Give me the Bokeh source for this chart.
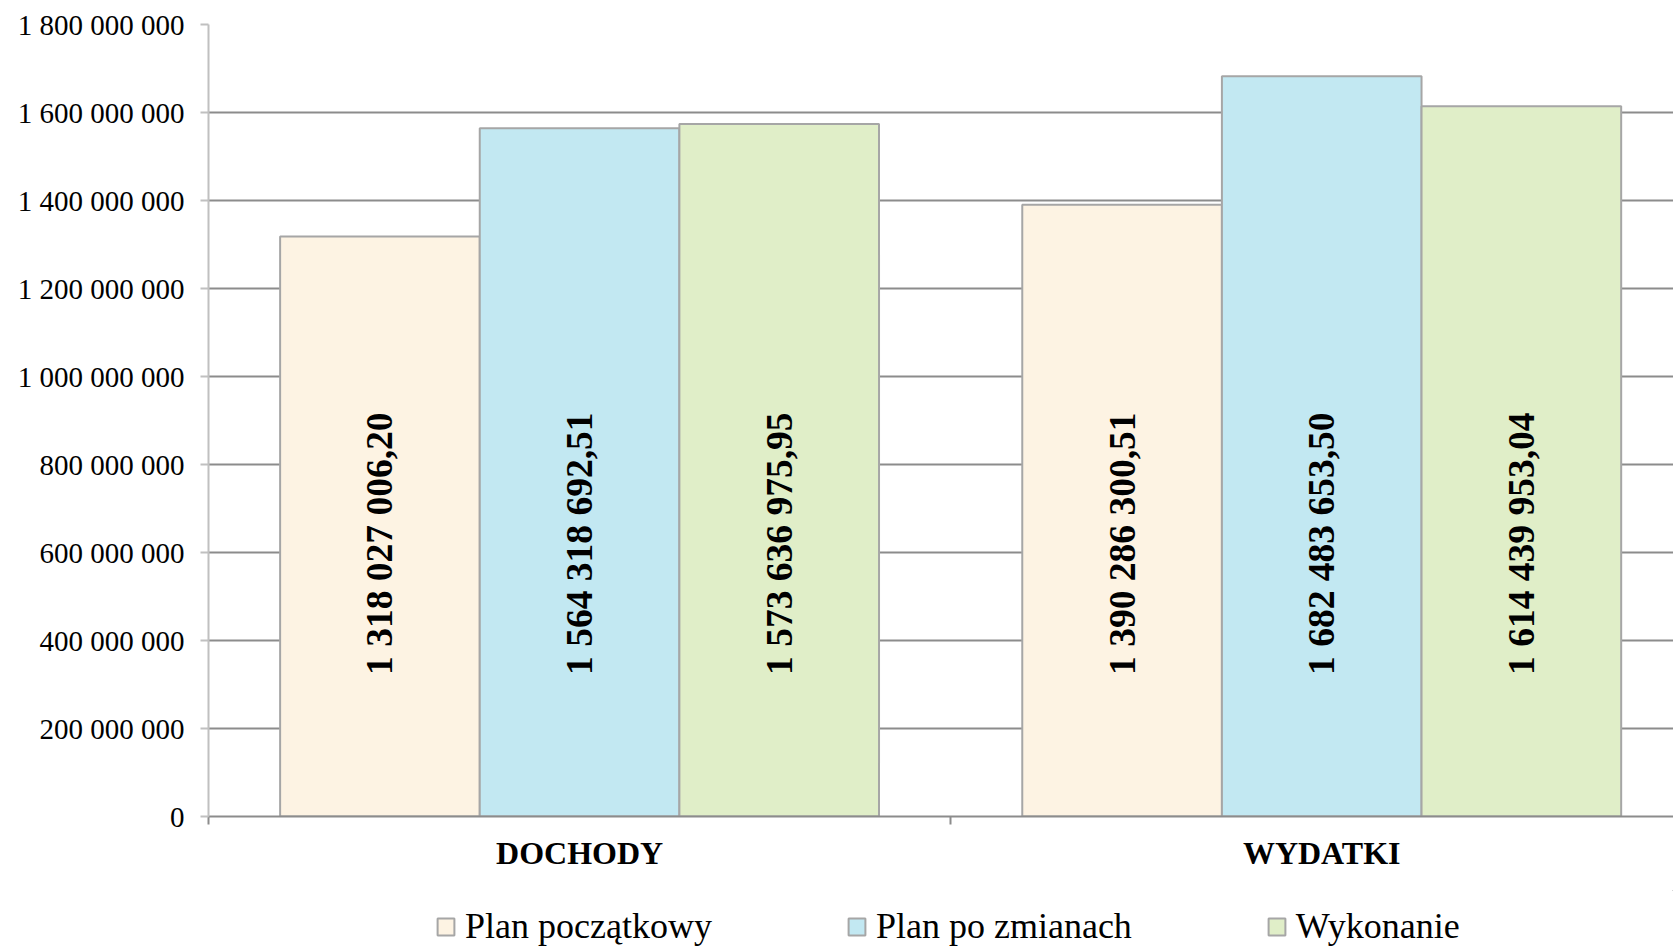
import math
from bokeh.plotting import figure
from bokeh.layouts import column
from bokeh.models import (ColumnDataSource, Range1d, FixedTicker, Legend, LegendItem)
from bokeh.core.properties import value
from bokeh.embed import file_html
from bokeh.resources import INLINE

# ---- data ----
categories = ["DOCHODY", "WYDATKI"]
series_names = ["Plan początkowy", "Plan po zmianach", "Wykonanie"]
plan_poczatkowy = [1318027006.20, 1390286300.51]
plan_po_zmianach = [1564318692.51, 1682483653.50]
wykonanie = [1573636975.95, 1614439953.04]
value_labels = [
    ["1 318 027 006,20", "1 390 286 300,51"],
    ["1 564 318 692,51", "1 682 483 653,50"],
    ["1 573 636 975,95", "1 614 439 953,04"],
]
y_ticks = [0, 200000000, 400000000, 600000000, 800000000, 1000000000,
           1200000000, 1400000000, 1600000000, 1800000000]
y_tick_labels = ["0", "200 000 000", "400 000 000", "600 000 000", "800 000 000",
                 "1 000 000 000", "1 200 000 000", "1 400 000 000",
                 "1 600 000 000", "1 800 000 000"]

colors = ["#FDF3E3", "#C2E8F2", "#E0EEC8"]
series_values = [plan_poczatkowy, plan_po_zmianach, wykonanie]

SERIF = "Liberation Serif"
BAR_LINE = "#A6A6A6"

p = figure(width=1673, height=890, output_backend="svg", toolbar_location=None,
           x_range=Range1d(0, 1.974), y_range=Range1d(0, 1800000000),
           min_border_left=208, min_border_right=0, min_border_top=24,
           min_border_bottom=74)
p.outline_line_color = None
p.background_fill_color = "white"
p.border_fill_color = "white"

bar_w = 0.269
offsets = [-bar_w, 0.0, bar_w]
centers = [i + 0.5 for i in range(len(categories))]

label_y = 620000000
for k, (vals, col) in enumerate(zip(series_values, colors)):
    xs = [c + offsets[k] for c in centers]
    src = ColumnDataSource(dict(x=xs, top=vals, lab=value_labels[k],
                                ly=[label_y] * len(vals)))
    p.vbar(x="x", top="top", width=bar_w, bottom=0, source=src,
           fill_color=col, line_color=BAR_LINE, line_width=2)
    p.text(x="x", y="ly", text="lab", source=src, angle=math.pi / 2,
           text_align="center", text_baseline="middle",
           text_font=value(SERIF), text_font_style="bold",
           text_font_size="37.5px", text_color="black")

# grid
p.xgrid.visible = False
p.ygrid.ticker = FixedTicker(ticks=y_ticks)
p.ygrid.grid_line_color = "#8C8C8C"
p.ygrid.grid_line_width = 2

# y axis
p.yaxis.ticker = FixedTicker(ticks=y_ticks)
p.yaxis.major_label_overrides = {t: l for t, l in zip(y_ticks, y_tick_labels)}
p.yaxis.major_label_text_font = SERIF
p.yaxis.major_label_text_font_size = "29px"
p.yaxis.major_label_text_color = "black"
p.yaxis.major_label_standoff = 16
p.yaxis.axis_line_color = "#C0C0C0"
p.yaxis.axis_line_width = 2
p.yaxis.major_tick_line_color = "#C0C0C0"
p.yaxis.major_tick_line_width = 2
p.yaxis.major_tick_out = 8
p.yaxis.major_tick_in = 0
p.yaxis.minor_tick_line_color = None

# x axis
p.xaxis.ticker = FixedTicker(ticks=centers, minor_ticks=[0, 1, 2])
p.xaxis.major_label_overrides = {c: n for c, n in zip(centers, categories)}
p.xaxis.major_label_text_font = SERIF
p.xaxis.major_label_text_font_style = "bold"
p.xaxis.major_label_text_font_size = "32px"
p.xaxis.major_label_text_color = "black"
p.xaxis.major_label_standoff = 10
p.xaxis.major_tick_line_color = None
p.xaxis.major_tick_out = 0
p.xaxis.major_tick_in = 0
p.xaxis.minor_tick_line_color = "#8C8C8C"
p.xaxis.minor_tick_line_width = 2
p.xaxis.minor_tick_out = 8
p.xaxis.minor_tick_in = 0
p.xaxis.axis_line_color = "#8C8C8C"
p.xaxis.axis_line_width = 2

# legend strip below the chart (its frame is aligned with the chart frame)
lg = figure(width=1673, height=57, output_backend="svg", toolbar_location=None,
            x_range=Range1d(0, 1), y_range=Range1d(0, 1),
            min_border_left=0, min_border_right=0, min_border_top=0,
            min_border_bottom=0)
lg.axis.visible = False
lg.grid.visible = False
lg.outline_line_color = None
lg_renderers = []
for col in colors:
    # placeholder renderer outside the visible range, used only for the legend swatch
    r = lg.vbar(x=[5], top=[5], bottom=[4], width=0.1, fill_color=col,
                line_color=BAR_LINE, line_width=2)
    lg_renderers.append(r)

legend = Legend(items=[LegendItem(label=n, renderers=[r]) for n, r in zip(series_names, lg_renderers)],
                orientation="horizontal", location=(227, 0),
                label_text_font=SERIF, label_text_font_size="36px",
                label_text_color="black",
                glyph_width=21, glyph_height=21, label_standoff=9, spacing=134,
                padding=0, margin=0, border_line_color=None,
                background_fill_alpha=0)
lg.add_layout(legend, "center")

layout = column(p, lg, spacing=0)
open("out.html", "w").write(file_html(layout, INLINE))
